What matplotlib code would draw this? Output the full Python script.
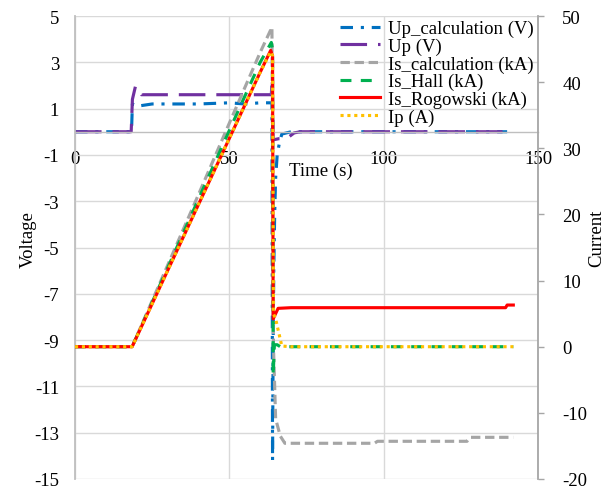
import matplotlib
matplotlib.use('Agg')
import matplotlib.pyplot as plt
from matplotlib.lines import Line2D

plt.rcParams['font.family'] = ['Liberation Serif', 'DejaVu Serif']
plt.rcParams['font.size'] = 13.5
plt.rcParams['axes.unicode_minus'] = False

# ---------------- data ----------------
# Up_calculation (V), left axis
t_upcalc = [0, 18.3, 18.6, 20, 25, 30, 40, 50, 55, 60, 63.8, 64.0, 64.2, 64.4, 64.7, 65.0, 65.5, 66.2, 67, 70, 80, 100, 120, 140]
v_upcalc = [0, 0, 1.2, 1.1, 1.2, 1.2, 1.2, 1.25, 1.2, 1.25, 1.25, -14.2, -9, -6, -3.5, -2, -1, -0.5, -0.1, 0, 0, 0, 0, 0]

# Up (V), left axis
t_up = [0, 18.2, 18.6, 19.6, 21.5, 30, 40, 50, 60, 63.6, 63.9, 64.2, 66, 68.5, 71, 73, 80, 100, 120, 140]
v_up = [0, 0, 1.4, 1.97, 1.6, 1.6, 1.6, 1.6, 1.6, 1.6, 2.3, -0.35, -0.3, -0.3, -0.05, 0, 0, 0, 0, 0]

# Is_calculation (kA), right axis
t_iscalc = [0, 18.5, 30, 40, 50, 60, 63.8, 64.0, 64.3, 65.0, 66.5, 68.0, 97, 98, 127, 128, 142]
i_iscalc = [0, 0, 12.3, 23, 33.8, 44.5, 48.3, 30, 0, -10.9, -13.5, -14.6, -14.6, -14.3, -14.3, -13.7, -13.7]

# Is_Hall (kA), right axis
t_hall = [0, 18.5, 30, 40, 50, 60, 63.6, 64.0, 64.2, 64.6, 65.5, 66.5, 70, 142]
i_hall = [0, 0, 11.9, 22.3, 32.7, 43, 46, 45, -4.4, 0.3, 0.3, 0, 0, 0]

# Is_Rogowski (kA), right axis
t_rog = [0, 18.5, 30, 40, 50, 60, 63.4, 64.0, 64.2, 65.8, 70, 100, 139.5, 140, 142]
i_rog = [0, 0, 11.5, 21.5, 31.5, 41.5, 44.8, 44, 4.2, 5.8, 5.9, 5.9, 5.9, 6.3, 6.3]

# Ip (A), right axis
t_ip = [0, 18.5, 30, 40, 50, 60, 63.4, 64.0, 64.3, 65.0, 67, 70, 100, 142]
i_ip = [0, 0, 11.5, 21.5, 31.5, 41.5, 44.6, 44, 5.0, 4.2, 0.1, 0, 0, 0]

x_ticks = [0, 50, 100, 150]
v_ticks = [5, 3, 1, -1, -3, -5, -7, -9, -11, -13, -15]
i_ticks = [50, 40, 30, 20, 10, 0, -10, -20]

# ---------------- figure ----------------
fig = plt.figure(figsize=(6.04, 4.89), dpi=100)
ax = fig.add_axes([75/604, 1-480/489, 463/604, 463/489])
ax2 = ax.twinx()

grid_c = '#D9D9D9'
spine_c = '#BFBFBF'
lw = 2.25

ax.set_xlim(0, 150)
ax.set_ylim(-15, 5)
ax2.set_ylim(-20, 50)

ax.set_xticks(x_ticks)
ax.set_xticklabels([str(v) for v in x_ticks])
ax.set_yticks(v_ticks)
ax.set_yticklabels([str(v) for v in v_ticks])
ax2.set_yticks(i_ticks)
ax2.set_yticklabels([str(v) for v in i_ticks])

ax.grid(True, color=grid_c, lw=1)
ax.set_axisbelow(True)

for s in ['top', 'right']:
    ax.spines[s].set_visible(False)
ax.spines['bottom'].set_position(('data', 0))
ax.spines['bottom'].set_color(spine_c)
ax.spines['bottom'].set_linewidth(1)
ax.spines['left'].set_color(spine_c)
ax.spines['left'].set_linewidth(1.3)
for s in ['top', 'left', 'bottom']:
    ax2.spines[s].set_visible(False)
ax2.spines['right'].set_color('#A6A6A6')
ax2.spines['right'].set_linewidth(1.3)

ax.tick_params(axis='y', length=0, pad=11.5, labelsize=13.5)
ax.tick_params(axis='x', length=0, pad=13.3, labelsize=13.5)
ax2.tick_params(axis='y', direction='out', length=4.5, width=1, color='#A6A6A6', pad=13, labelsize=13.5)

# series
l1, = ax.plot(t_upcalc, v_upcalc, color='#0070C0', lw=lw, ls=(0, (4, 2.5, 1, 2.5)), label='Up_calculation (V)')
l2, = ax.plot(t_up, v_up, color='#7030A0', lw=lw, ls=(0, (8.5, 3.5)), label='Up (V)')
l3, = ax2.plot(t_iscalc, i_iscalc, color='#A5A5A5', lw=lw, ls=(0, (3, 1.5)), label='Is_calculation (kA)')
l4, = ax2.plot(t_hall, i_hall, color='#00B050', lw=lw, ls=(0, (3.5, 3)), label='Is_Hall (kA)')
l5, = ax2.plot(t_rog, i_rog, color='#FF0000', lw=lw, ls='-', label='Is_Rogowski (kA)')
l6, = ax2.plot(t_ip, i_ip, color='#FFC000', lw=lw, ls=(0, (1, 1.2)), label='Ip (A)')

ax.set_xlabel('Time (s)', fontsize=13.5)
ax.xaxis.set_label_coords((321-75)/463, (480-163)/463)
ax.set_ylabel('Voltage', fontsize=13.5)
ax.yaxis.set_label_coords((37-75)/463, (480-240)/463)
ax2.set_ylabel('Current', fontsize=13.5)
ax2.yaxis.set_label_coords((588-75)/463, (480-238)/463)

handles = [l1, l2, l3, l4, l5, l6]
fig.legend(handles, [h.get_label() for h in handles], loc='upper left',
           bbox_to_anchor=(340/604, 1-21/489), bbox_transform=fig.transFigure,
           borderaxespad=0, borderpad=0, handlelength=2.13, handletextpad=0.43,
           labelspacing=0.02, frameon=False, fontsize=13.5)

fig.savefig('out.png', dpi=100)
